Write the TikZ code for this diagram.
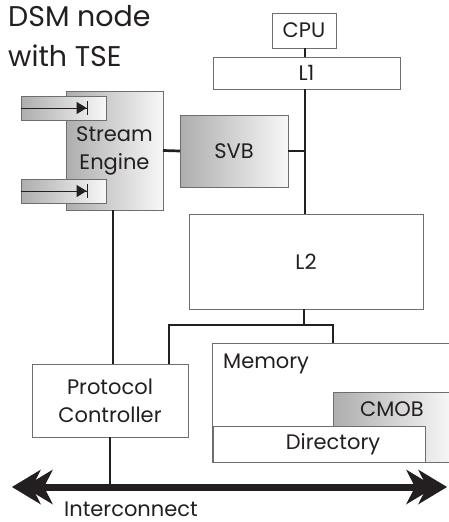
\documentclass[tikz,border=0pt]{standalone}
\usepackage{fontspec}
\setmainfont{Poppins}
\usetikzlibrary{arrows.meta,calc}
\definecolor{ink}{HTML}{231F20}
\definecolor{edge}{HTML}{6D6E71}
\begin{document}
\begin{tikzpicture}[x=1pt,y=-1pt,
  box/.style={draw=edge,line width=0.9pt,fill=white,inner sep=0pt,outer sep=0pt,text=ink,font=\fontsize{21}{28}\selectfont},
  shadebox/.style={box,left color=black!32,right color=black!3},
  conn/.style={draw=ink,line width=2.7pt},
  lbl/.style={inner sep=0pt,text=ink,font=\fontsize{21}{28}\selectfont},
  title/.style={inner sep=0pt,text=ink,font=\fontsize{28.5}{30}\selectfont,anchor=base west},
  diode/.style={draw=ink,line width=1pt,-{Triangle[length=10pt,width=12pt,sep=0pt]Bar[width=14pt,line width=1.4pt]}},
  bigtip/.tip={Stealth[length=29pt,width=35pt,inset=9pt,line width=0pt]},
  bus/.style={draw=ink,line width=7pt,{bigtip[]}-{bigtip[]}},
  businner/.style={bus,shorten <=12pt,shorten >=12pt}
]
\useasboundingbox (0,0) rectangle (448,522);

% title
\node[title] (t1) at (8,27) {DSM node};
\node[title] (t2) at (8,66) {with TSE};

% CPU / caches
\node[box,minimum width=64pt,minimum height=35pt] (cpu) at (304,30.5) {CPU};
\node[box,minimum width=187pt,minimum height=32pt] (l1) at (306.5,73) {L1};
\node[box,minimum width=234pt,minimum height=95pt] (l2) at (306,261.5) {L2};

% stream engine
\node[shadebox,minimum width=97pt,minimum height=119pt,align=center] (se) at (114.5,150.5) {Stream\\Engine};
\node[shadebox,minimum width=85pt,minimum height=24pt] (sm1) at (63.5,108) {};
\node[shadebox,minimum width=85pt,minimum height=24pt] (sm2) at (63.5,191) {};
\coordinate (d1) at (88,108);
\coordinate (d2) at (88,191);
\draw[diode] (sm1.west) -- (d1);
\draw[diode] (sm2.west) -- (d2);

% SVB
\node[shadebox,minimum width=108pt,minimum height=72pt] (svb) at (234,151) {SVB};

% protocol controller
\node[box,minimum width=156pt,minimum height=73pt,align=center] (pc) at (110,400.5) {Protocol\\Controller};

% memory
\node[box,minimum width=240pt,minimum height=119pt] (mem) at (332,402.5) {};
\node[lbl,anchor=base west] (memlbl) at (223,368) {Memory};
\node[shadebox,minimum width=119pt,minimum height=70pt] (cmob) at (392.5,427) {};
\node[lbl] (cmoblbl) at (392,409) {CMOB};
\node[box,minimum width=212pt,minimum height=36pt] (dir) at (319,444) {};
\node[lbl] (dirlbl) at (333,444) {Directory};

% connectors
\draw[conn] (cpu.south -| 305,0) -- (l1.north -| 305,0);
\draw[conn] (l1.south -| 305,0) -- (l2.north -| 305,0);
\draw[conn] (se.east) -- (svb.west);
\draw[conn] (svb.east) -- (svb.east -| 305,0);
\draw[conn] (se.south -| 113,0) -- (pc.north -| 113,0);
\coordinate (j) at ($(l2.south -| 304,0)+(0,16)$);
\draw[conn] (l2.south -| 304,0) -- (j);
\draw[conn] (pc.north -| 169,0) |- (j -| 333,0) -- (mem.north -| 333,0);

% interconnect
\coordinate (icL) at (12,487);
\coordinate (icR) at (447,487);
\draw[bus] (icL) -- (icR);
\draw[businner] (icL) -- (icR);
\draw[conn] (pc.south) -- (pc.south |- icL);
\node[lbl,anchor=base,text depth=0pt] (iclbl) at (131,516) {Interconnect};
\end{tikzpicture}
\end{document}
